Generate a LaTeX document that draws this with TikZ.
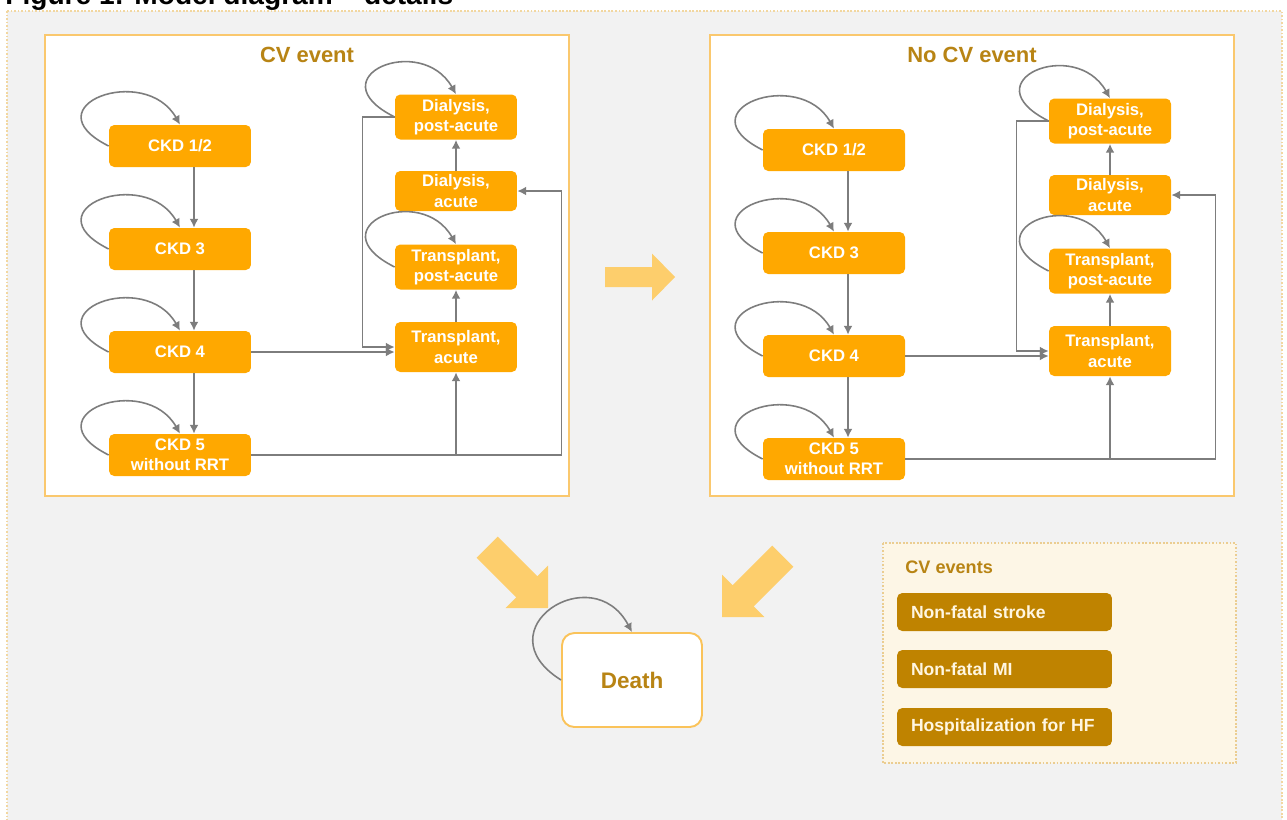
\documentclass[tikz,border=0pt]{standalone}
\usepackage{fontspec}
\setmainfont{Liberation Sans}
\usetikzlibrary{arrows.meta,calc}

\definecolor{bggray}{RGB}{242,242,242}
\definecolor{dotline}{RGB}{242,215,160}
\definecolor{panelline}{RGB}{250,200,110}
\definecolor{stateorange}{RGB}{255,168,0}
\definecolor{flowgray}{RGB}{125,125,125}
\definecolor{titlegold}{RGB}{184,132,20}
\definecolor{bigarrowfill}{RGB}{253,206,108}
\definecolor{legendfill}{RGB}{253,246,230}
\definecolor{legendline}{RGB}{235,205,145}
\definecolor{cvbrown}{RGB}{191,131,0}
\definecolor{cvtext}{RGB}{255,246,225}
\definecolor{deathline}{RGB}{250,195,90}

\tikzset{
  ckd/.style={fill=stateorange, text=white, rounded corners=3pt, minimum width=2.84cm,
    minimum height=0.84cm, inner sep=1pt, align=center, font=\fontsize{9.5}{11.5}\selectfont\bfseries},
  rrt/.style={ckd, minimum width=2.44cm},
  flow/.style={draw=flowgray, line width=0.9pt, -{Latex[length=5pt,width=5pt]}},
  panel/.style={draw=panelline, fill=white, line width=1.1pt},
  paneltitle/.style={text=titlegold, font=\fontsize{12.5}{14}\selectfont\bfseries},
  bigarrow/.style={fill=bigarrowfill},
  death/.style={draw=deathline, fill=white, line width=1.1pt, rounded corners=7pt, minimum width=2.8cm,
    minimum height=1.88cm, text=titlegold, font=\fontsize{12.8}{15}\selectfont\bfseries},
  cvitem/.style={fill=cvbrown, text=cvtext, rounded corners=3pt, text width=3.74cm, inner xsep=0.28cm,
    minimum height=0.76cm, align=left, font=\fontsize{10}{12}\selectfont\bfseries},
}

\begin{document}
\begin{tikzpicture}[x={(0.02cm,0)}, y={(0,-0.02cm)}]
  \useasboundingbox (0,0) rectangle (1287,819);
  \fill[white] (0,0) rectangle (1287,819);
  \node[anchor=base west, inner sep=0, font=\fontsize{16}{19}\selectfont\bfseries] (figtitle) at (5,4)
    {Figure 1: Model diagram -- details};
  \filldraw[fill=bggray, draw=dotline, line width=1pt, dash pattern=on 1pt off 1pt] (7,11) rectangle (1282,840);

  % panels
  \draw[panel] (45,35) rectangle (569,496);
  \node[paneltitle] (ttlcv) at (307,55) {CV event};
  \draw[panel] (710,35) rectangle (1234,496);
  \node[paneltitle] (ttlnocv) at (972,55) {No CV event};

  % CV event
  \node[ckd] (lckd12) at (180,146) {CKD 1/2};
  \node[ckd] (lckd3) at (180,249) {CKD 3};
  \node[ckd] (lckd4) at (180,352) {CKD 4};
  \node[ckd] (lckd5) at (180,455) {CKD 5\\without RRT};
  \node[rrt, minimum height=0.9cm] (ldpa) at (456,117) {Dialysis,\\post-acute};
  \node[rrt, minimum height=0.8cm] (lda) at (456,191) {Dialysis,\\acute};
  \node[rrt, minimum height=0.9cm] (ltpa) at (456,267) {Transplant,\\post-acute};
  \node[rrt, minimum height=1.0cm] (lta) at (456,347) {Transplant,\\acute};

  \draw[flow] ($(lckd12.south)+(14,0)$) -- ($(lckd3.north)+(14,0)$);
  \draw[flow] ($(lckd3.south)+(14,0)$) -- ($(lckd4.north)+(14,0)$);
  \draw[flow] ($(lckd4.south)+(14,0)$) -- ($(lckd5.north)+(14,0)$);
  \draw[flow] (lckd12.west) .. controls +(-80,-40) and +(-35,-62) .. (lckd12.north);
  \draw[flow] (lckd3.west) .. controls +(-80,-40) and +(-35,-62) .. (lckd3.north);
  \draw[flow] (lckd4.west) .. controls +(-80,-40) and +(-35,-62) .. (lckd4.north);
  \draw[flow] (lckd5.west) .. controls +(-80,-40) and +(-35,-62) .. (lckd5.north);
  \draw[flow] (ldpa.west) .. controls +(-80,-40) and +(-35,-62) .. (ldpa.north);
  \draw[flow] (ltpa.west) .. controls +(-80,-40) and +(-35,-62) .. (ltpa.north);
  \draw[flow] (lda.north) -- (ldpa.south);
  \draw[flow] (lta.north) -- (ltpa.south);
  \draw[flow] (lckd4.east) -- (lckd4.east -| lta.west);
  \draw[flow] (ldpa.west) -- ++(-32,0) |- (lta.west);
  \draw[flow] (lckd5.east) -| ($(lda.east)+(44,0)$) -- (lda.east);
  \draw[flow] (lckd5.east -| lta.south) -- (lta.south);

  % No CV event
  \node[ckd] (rckd12) at (834,150) {CKD 1/2};
  \node[ckd] (rckd3) at (834,253) {CKD 3};
  \node[ckd] (rckd4) at (834,356) {CKD 4};
  \node[ckd] (rckd5) at (834,459) {CKD 5\\without RRT};
  \node[rrt, minimum height=0.9cm] (rdpa) at (1110,121) {Dialysis,\\post-acute};
  \node[rrt, minimum height=0.8cm] (rda) at (1110,195) {Dialysis,\\acute};
  \node[rrt, minimum height=0.9cm] (rtpa) at (1110,271) {Transplant,\\post-acute};
  \node[rrt, minimum height=1.0cm] (rta) at (1110,351) {Transplant,\\acute};

  \draw[flow] ($(rckd12.south)+(14,0)$) -- ($(rckd3.north)+(14,0)$);
  \draw[flow] ($(rckd3.south)+(14,0)$) -- ($(rckd4.north)+(14,0)$);
  \draw[flow] ($(rckd4.south)+(14,0)$) -- ($(rckd5.north)+(14,0)$);
  \draw[flow] (rckd12.west) .. controls +(-80,-40) and +(-35,-62) .. (rckd12.north);
  \draw[flow] (rckd3.west) .. controls +(-80,-40) and +(-35,-62) .. (rckd3.north);
  \draw[flow] (rckd4.west) .. controls +(-80,-40) and +(-35,-62) .. (rckd4.north);
  \draw[flow] (rckd5.west) .. controls +(-80,-40) and +(-35,-62) .. (rckd5.north);
  \draw[flow] (rdpa.west) .. controls +(-80,-40) and +(-35,-62) .. (rdpa.north);
  \draw[flow] (rtpa.west) .. controls +(-80,-40) and +(-35,-62) .. (rtpa.north);
  \draw[flow] (rda.north) -- (rdpa.south);
  \draw[flow] (rta.north) -- (rtpa.south);
  \draw[flow] (rckd4.east) -- (rckd4.east -| rta.west);
  \draw[flow] (rdpa.west) -- ++(-32,0) |- (rta.west);
  \draw[flow] (rckd5.east) -| ($(rda.east)+(44,0)$) -- (rda.east);
  \draw[flow] (rckd5.east -| rta.south) -- (rta.south);

  % big arrows
  \fill[bigarrow] (675,277) -- (652,253.5) -- (652,267) -- (605,267) -- (605,287) -- (652,287) -- (652,300.5) -- cycle;
  \fill[bigarrow] (548,608) -- (548,565.6) -- (537.4,576.2) -- (497.8,536.6) -- (476.6,557.8) -- (516.2,597.4) -- (505.6,608) -- cycle;
  \fill[bigarrow] (722,617) -- (722,574.6) -- (732.6,585.2) -- (772.2,545.6) -- (793.4,566.8) -- (753.8,606.4) -- (764.4,617) -- cycle;

  % death
  \node[death] (death) at (632,680) {Death};
  \draw[flow] (death.west) .. controls +(-80,-50) and +(-40,-75) .. (death.north);

  % CV events legend
  \filldraw[fill=legendfill, draw=legendline, line width=0.8pt, dash pattern=on 1pt off 1pt] (883,543) rectangle (1236,763);
  \node[anchor=west, inner sep=0, text=titlegold, font=\fontsize{10.3}{12}\selectfont\bfseries] (cvlegend) at (905,567) {CV events};
  \node[cvitem] (stroke) at (1004.5,612) {Non-fatal stroke};
  \node[cvitem] (mi) at (1004.5,669) {Non-fatal MI};
  \node[cvitem] (hf) at (1004.5,727) {Hospitalization for HF};
\end{tikzpicture}
\end{document}
